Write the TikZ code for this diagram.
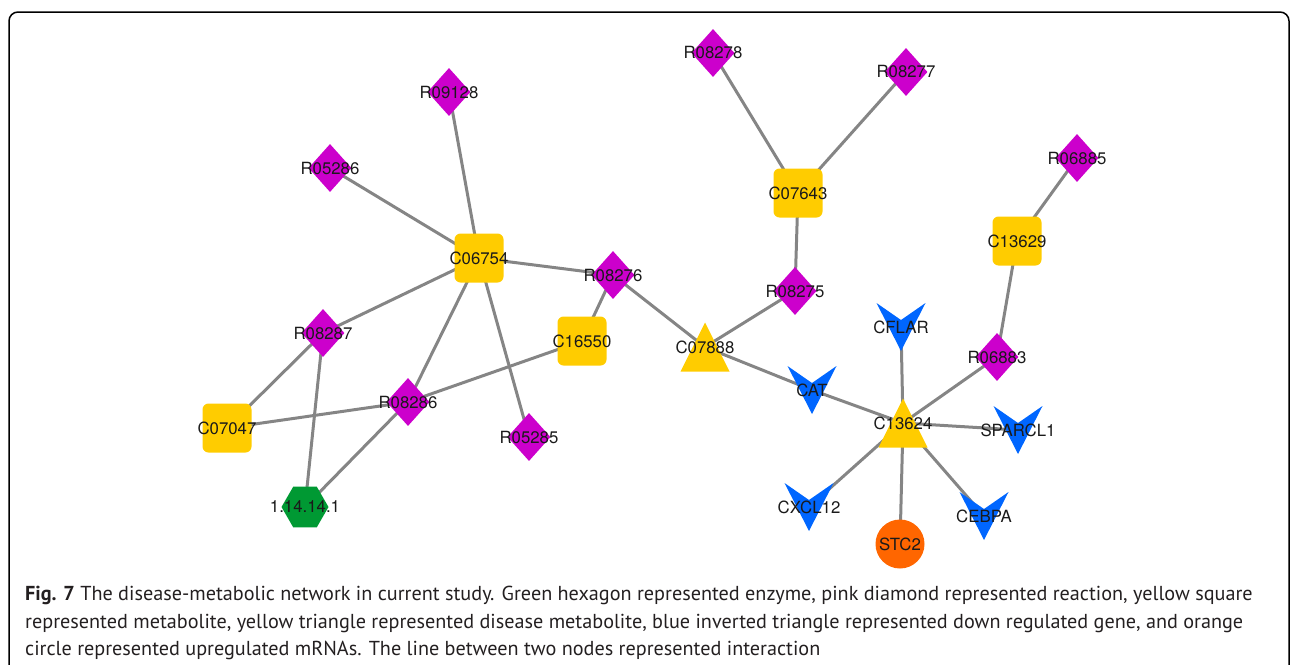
\documentclass[tikz,border=0pt]{standalone}
\usepackage{fontspec}
\setmainfont{TeX Gyre Heros}
\newfontfamily\capfont{PT Sans}
\usetikzlibrary{shapes.geometric,backgrounds}
\definecolor{rxncol}{HTML}{CC00CC}
\definecolor{metcol}{HTML}{FFCC00}
\definecolor{genecol}{HTML}{0066FF}
\definecolor{enzcol}{HTML}{009933}
\definecolor{upcol}{HTML}{FF6600}
\definecolor{edgecol}{HTML}{858585}
\definecolor{txtcol}{HTML}{1A1A1A}
\definecolor{captxt}{HTML}{231F20}
\newcommand\nlab[1]{\makebox[0pt]{#1}}
\begin{document}
\begin{tikzpicture}[x=1pt,y=-1pt,
  every node/.style={inner sep=0pt},
  lbl/.style={font=\fontsize{16.8}{16.8}\selectfont, text=txtcol},
  rxn/.style={lbl, diamond, fill=rxncol, minimum width=43pt, minimum height=48pt},
  met/.style={lbl, rectangle, rounded corners=6pt, fill=metcol, minimum size=49pt},
  dmet/.style={lbl, rectangle, minimum size=49pt,
    path picture={\fill[metcol] (path picture bounding box.south west) -- (path picture bounding box.north) -- (path picture bounding box.south east) -- cycle;}},
  gene/.style={lbl, rectangle, minimum width=49pt, minimum height=48pt,
    path picture={\fill[genecol] (path picture bounding box.north west) -- ([yshift=-17pt]path picture bounding box.north) -- (path picture bounding box.north east) -- (path picture bounding box.south) -- cycle;}},
  enz/.style={lbl, regular polygon, regular polygon sides=6, fill=enzcol, minimum size=47pt},
  upreg/.style={lbl, circle, fill=upcol, minimum size=49pt},
  edge/.style={draw=edgecol, line width=3pt},
  frame/.style={draw=black, line width=1.5pt, rounded corners=9pt},
  captext/.style={anchor=base west, font=\capfont\fontsize{20.2}{20.2}\selectfont, text=captxt}
]
\useasboundingbox (0,0) rectangle (1295,664);
\draw[frame] (9,690) -- (9,12) -- (1289,12) -- (1289,690);

% nodes
\node[rxn] (r78) at (713,53) {\nlab{R08278}};
\node[rxn] (r77) at (906,72) {\nlab{R08277}};
\node[met] (c43) at (798,193) {\nlab{C07643}};
\node[rxn] (r75) at (795,291) {\nlab{R08275}};
\node[dmet] (c88) at (705,347) {\nlab{C07888}};
\node[rxn] (r76) at (613,275) {\nlab{R08276}};
\node[met] (c54) at (479,258) {\nlab{C06754}};
\node[met] (c50) at (582,341) {\nlab{C16550}};
\node[rxn] (r28) at (449,92) {\nlab{R09128}};
\node[rxn] (r86) at (330,168) {\nlab{R05286}};
\node[rxn] (r87) at (323,333) {\nlab{R08287}};
\node[rxn] (r286) at (408,402) {\nlab{R08286}};
\node[rxn] (r85) at (529,437) {\nlab{R05285}};
\node[met] (c47) at (227,428) {\nlab{C07047}};
\node[enz] (enz) at (305,507) {\nlab{1.14.14.1}};
\node[gene] (cat) at (812,390) {\nlab{CAT}};
\node[dmet] (c24) at (903,423) {\nlab{C13624}};
\node[gene] (cflar) at (901,327) {\nlab{CFLAR}};
\node[rxn] (r83) at (997,357) {\nlab{R06883}};
\node[met] (c29) at (1017,241) {\nlab{C13629}};
\node[rxn] (r885) at (1077,158) {\nlab{R06885}};
\node[gene] (sparc) at (1018,430) {\nlab{SPARCL1}};
\node[gene] (cxcl) at (809,507) {\nlab{CXCL12}};
\node[gene] (cebpa) at (984,516) {\nlab{CEBPA}};
\node[upreg] (stc) at (900,544) {\nlab{STC2}};

% edges
\begin{scope}[on background layer]
\draw[edge] (r78.center) -- (c43.center);
\draw[edge] (r77.center) -- (c43.center);
\draw[edge] (c43.center) -- (r75.center);
\draw[edge] (r75.center) -- (c88.center);
\draw[edge] (r76.center) -- (c88.center);
\draw[edge] (c54.center) -- (r76.center);
\draw[edge] (r76.center) -- (c50.center);
\draw[edge] (r28.center) -- (c54.center);
\draw[edge] (r86.center) -- (c54.center);
\draw[edge] (c54.center) -- (r87.center);
\draw[edge] (c54.center) -- (r286.center);
\draw[edge] (c54.center) -- (r85.center);
\draw[edge] (r87.center) -- (c47.center);
\draw[edge] (r87.center) -- (enz.center);
\draw[edge] (c47.center) -- (r286.center);
\draw[edge] (r286.center) -- (c50.center);
\draw[edge] (r286.center) -- (enz.center);
\draw[edge] (c88.center) -- (cat.center);
\draw[edge] (cat.center) -- (c24.center);
\draw[edge] (cflar.center) -- (c24.center);
\draw[edge] (r83.center) -- (c24.center);
\draw[edge] (c29.center) -- (r83.center);
\draw[edge] (r885.center) -- (c29.center);
\draw[edge] (sparc.center) -- (c24.center);
\draw[edge] (cxcl.center) -- (c24.center);
\draw[edge] (cebpa.center) -- (c24.center);
\draw[edge] (stc.center) -- (c24.center);
\end{scope}

% caption
\node[captext] (cap1) at (25,600) {\textbf{Fig. 7} The disease-metabolic network in current study. Green hexagon represented enzyme, pink diamond represented reaction, yellow square};
\node[captext] (cap2) at (25,628) {represented metabolite, yellow triangle represented disease metabolite, blue inverted triangle represented down regulated gene, and orange};
\node[captext] (cap3) at (25,655) {circle represented upregulated mRNAs. The line between two nodes represented interaction};
\end{tikzpicture}
\end{document}
